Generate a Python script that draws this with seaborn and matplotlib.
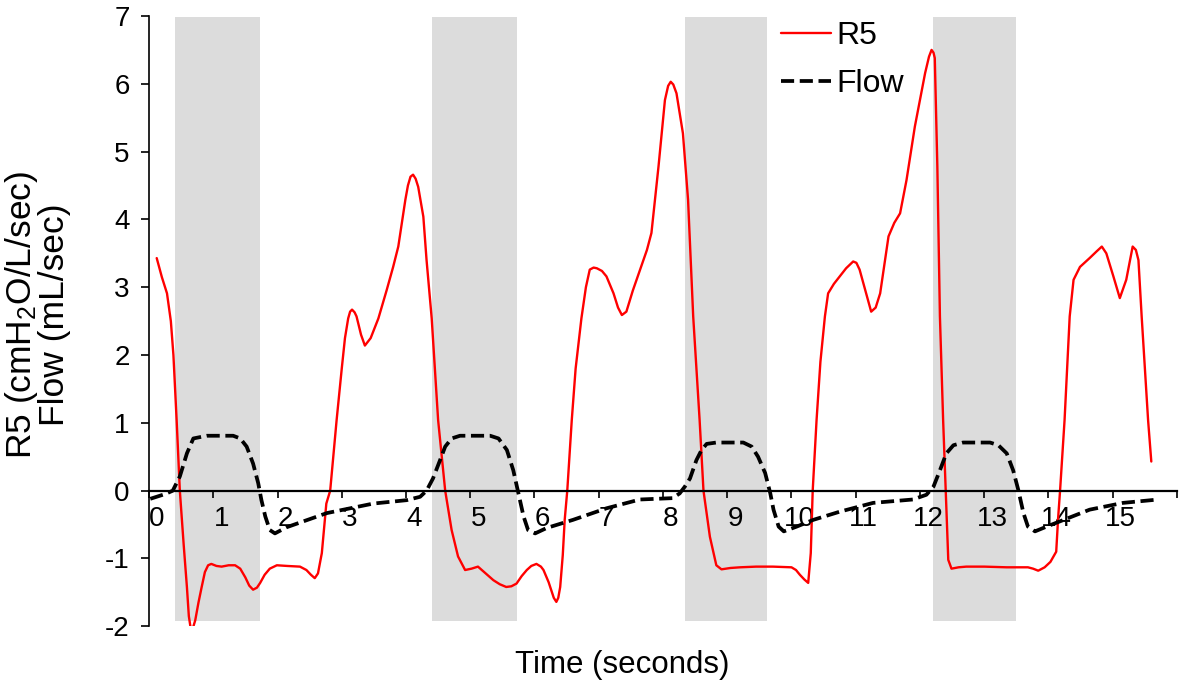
import matplotlib
matplotlib.use("Agg")
import matplotlib.pyplot as plt
import matplotlib.transforms as mtransforms
import seaborn as sns
import pandas as pd

# ---------------- data ----------------
r5_time = [0.12, 0.20, 0.28, 0.34, 0.38, 0.43, 0.48, 0.54, 0.59, 0.62, 0.66, 0.72, 0.77, 0.82, 0.87,
           0.92, 0.97, 1.05, 1.13, 1.24, 1.34, 1.42, 1.50, 1.56, 1.62, 1.68, 1.73, 1.80, 1.88, 1.99,
           2.15, 2.35, 2.45, 2.52, 2.58, 2.63, 2.69, 2.76, 2.82, 2.92, 3.00, 3.05, 3.10, 3.13, 3.16, 3.20,
           3.23, 3.30, 3.36, 3.45, 3.57, 3.70, 3.80, 3.88, 3.99, 4.03, 4.07, 4.11, 4.15, 4.19, 4.27,
           4.32, 4.40, 4.50,
           4.61, 4.71, 4.81, 4.92, 5.02, 5.12, 5.24, 5.36, 5.46, 5.56, 5.64, 5.72, 5.80, 5.88, 5.95,
           6.03, 6.10, 6.14, 6.22, 6.30, 6.34, 6.37, 6.40, 6.44, 6.47, 6.51, 6.58, 6.64, 6.73, 6.80,
           6.86, 6.92, 6.97, 7.05, 7.12, 7.23, 7.30, 7.36, 7.43, 7.53, 7.64, 7.75, 7.82, 7.93, 8.03, 8.08,
           8.12, 8.16, 8.21, 8.31, 8.39, 8.47, 8.57, 8.63, 8.73, 8.83, 8.91, 9.05, 9.20, 9.45, 9.71,
           10.00, 10.07, 10.13, 10.20, 10.26, 10.30, 10.33, 10.39, 10.45, 10.52, 10.57, 10.66, 10.75,
           10.85, 10.96, 11.01, 11.06, 11.15, 11.24, 11.31, 11.38, 11.51, 11.60, 11.69, 11.79, 11.92,
           12.08, 12.14, 12.18, 12.21, 12.23, 12.27, 12.31, 12.36, 12.40, 12.44, 12.49, 12.60, 12.72,
           13.00, 13.35, 13.68, 13.76, 13.84, 13.94, 14.03, 14.12, 14.15, 14.18, 14.25, 14.33, 14.39,
           14.49, 14.64, 14.75, 14.83, 14.90, 15.01, 15.11, 15.21, 15.31, 15.36, 15.40, 15.45, 15.55,
           15.60]
r5_value = [3.43, 3.15, 2.91, 2.50, 2.00, 1.04, 0.00, -0.80, -1.42, -1.85, -2.10, -1.91, -1.65, -1.42, -1.20,
            -1.10, -1.08, -1.11, -1.12, -1.10, -1.10, -1.15, -1.28, -1.40, -1.46, -1.43, -1.36, -1.24, -1.15, -1.10,
            -1.11, -1.12, -1.17, -1.24, -1.29, -1.22, -0.92, -0.19, 0.00, 1.04, 1.80, 2.25, 2.54, 2.64, 2.67, 2.63,
            2.57, 2.30, 2.14, 2.25, 2.54, 2.96, 3.30, 3.60, 4.29, 4.50, 4.63, 4.66, 4.60, 4.48, 4.04,
            3.40, 2.54, 1.04,
            0.00, -0.58, -0.97, -1.17, -1.15, -1.12, -1.22, -1.32, -1.38, -1.42, -1.41, -1.37, -1.26, -1.17, -1.11,
            -1.08, -1.12, -1.17, -1.35, -1.58, -1.64, -1.58, -1.42, -0.95, -0.43, 0.00, 1.04, 1.80, 2.54, 3.00,
            3.26, 3.29, 3.28, 3.24, 3.16, 2.91, 2.70, 2.59, 2.64, 2.95, 3.25, 3.55, 3.80, 4.78, 5.76, 5.97,
            6.03, 5.99, 5.86, 5.27, 4.29, 2.57, 1.04, 0.00, -0.68, -1.10, -1.16, -1.14, -1.13, -1.12, -1.12,
            -1.13, -1.17, -1.24, -1.31, -1.36, -0.92, 0.00, 1.04, 1.90, 2.57, 2.91, 3.05, 3.16,
            3.28, 3.38, 3.36, 3.26, 2.95, 2.64, 2.70, 2.91, 3.75, 3.95, 4.09, 4.58, 5.37,
            6.16, 6.40, 6.50, 6.46, 6.38, 4.78, 2.57, 1.04, 0.00, -1.02, -1.15, -1.13, -1.12,
            -1.12, -1.13, -1.13, -1.15, -1.18, -1.13, -1.05, -0.90, -0.40, 0.00, 1.04, 2.57, 3.11,
            3.30, 3.43, 3.53, 3.60, 3.50, 3.16, 2.84, 3.11, 3.60, 3.55, 3.40, 2.57, 1.04,
            0.43]

flow_time = [0.02, 0.25, 0.37, 0.48, 0.59, 0.69, 0.90, 1.31, 1.42, 1.52, 1.62, 1.70, 1.75, 1.81, 1.88,
             1.96, 2.14, 2.77, 3.49, 4.01, 4.22, 4.32, 4.42, 4.53, 4.61, 4.71, 4.84, 5.31, 5.44, 5.57,
             5.67, 5.75, 5.83, 5.90, 6.01, 6.19, 6.60, 7.12, 7.64, 8.15, 8.26, 8.34, 8.42, 8.52, 8.60,
             8.68, 8.83, 9.25, 9.38, 9.48, 9.59, 9.67, 9.72, 9.80, 9.88, 10.08, 10.34, 10.75, 11.27,
             11.89, 12.10, 12.21, 12.31, 12.41, 12.52, 12.67, 13.09, 13.22, 13.35, 13.45, 13.53, 13.61,
             13.68, 13.79, 13.97, 14.64, 15.16, 15.71]
flow_value = [-0.12, -0.05, 0.00, 0.21, 0.55, 0.77, 0.81, 0.81, 0.77, 0.65, 0.40, 0.11, -0.14, -0.38, -0.58,
              -0.63, -0.54, -0.33, -0.19, -0.14, -0.09, 0.00, 0.18, 0.45, 0.65, 0.77, 0.81, 0.81, 0.77, 0.60,
              0.30, -0.04, -0.38, -0.58, -0.63, -0.55, -0.43, -0.26, -0.13, -0.11, -0.04, 0.06, 0.18, 0.45, 0.60,
              0.69, 0.71, 0.71, 0.65, 0.50, 0.26, -0.04, -0.28, -0.53, -0.60, -0.53, -0.43, -0.31, -0.18,
              -0.13, -0.06, 0.06, 0.30, 0.55, 0.67, 0.71, 0.71, 0.67, 0.55, 0.30, 0.01, -0.33,
              -0.53, -0.60, -0.53, -0.28, -0.18, -0.13]

shade_start = [0.40, 4.41, 8.34, 12.21]
shade_end = [1.72, 5.72, 9.62, 13.49]

x_ticks = list(range(0, 17))
x_tick_labels = [str(i) for i in range(0, 16)] + [""]
y_ticks = list(range(-2, 8))

# ---------------- style ----------------
sns.set_style("white")
plt.rcParams["font.family"] = ["Liberation Sans", "DejaVu Sans"]
plt.rcParams["mathtext.fontset"] = "custom"
plt.rcParams["mathtext.rm"] = "Liberation Sans"
plt.rcParams["mathtext.it"] = "Liberation Sans"
plt.rcParams["mathtext.bf"] = "Liberation Sans:bold"
plt.rcParams["axes.unicode_minus"] = False
for key in ["text.color", "axes.labelcolor", "xtick.color", "ytick.color"]:
    plt.rcParams[key] = "black"

W, H, DPI = 1181, 686, 100
fig = plt.figure(figsize=(W / DPI, H / DPI), dpi=DPI)
left_px, right_px, top_px, bot_px = 149, 1177, 16, 626.3
ax = fig.add_axes([left_px / W, 1 - bot_px / H, (right_px - left_px) / W, (bot_px - top_px) / H])

for s, e in zip(shade_start, shade_end):
    ax.fill_between([s, e], -1.92, 6.98, color="#dcdcdc", linewidth=0, zorder=0)

r5_df = pd.DataFrame({"t": r5_time, "v": r5_value})
flow_df = pd.DataFrame({"t": flow_time, "v": flow_value})

sns.lineplot(data=r5_df, x="t", y="v", ax=ax, color="#ff0000", linewidth=1.7,
             estimator=None, sort=False, label="R5", zorder=3)
sns.lineplot(data=flow_df, x="t", y="v", ax=ax, color="black", linewidth=2.7,
             estimator=None, sort=False, label="Flow", zorder=4)
ax.lines[0].set_solid_joinstyle("round")
ax.lines[1].set_dashes((3.5, 1.5))

ax.set_xlim(0, 16)
ax.set_ylim(-2, 7)
ax.set_xticks(x_ticks)
ax.set_xticklabels(x_tick_labels)
ax.set_yticks(y_ticks)

for sp in ["top", "right"]:
    ax.spines[sp].set_visible(False)
ax.spines["bottom"].set_position(("data", 0))
ax.spines["bottom"].set_linewidth(1.6)
ax.spines["bottom"].set_color("black")
ax.spines["bottom"].set_zorder(5)
ax.spines["left"].set_linewidth(1.2)
ax.spines["left"].set_color("black")

ax.tick_params(axis="x", direction="out", length=5, width=1.2, color="black",
               labelcolor="black", labelsize=20, pad=6, bottom=True)
ax.tick_params(axis="y", direction="out", length=6, width=1.2, color="black",
               labelcolor="black", labelsize=20, pad=8, left=True)

offset = mtransforms.ScaledTranslation(8 / DPI, 0, fig.dpi_scale_trans)
for lab in ax.get_xticklabels():
    lab.set_transform(lab.get_transform() + offset)

ax.set_xlabel("Time (seconds)", fontsize=22.5, color="black")
ax.xaxis.set_label_coords(0.46, -0.039)
ax.set_ylabel("R5 (cmH$_2$O/L/sec)\nFlow (mL/sec)", fontsize=25.5, linespacing=0.92, color="black")
ax.yaxis.set_label_coords(-0.076, 0.51)

leg = ax.legend(loc="upper left", bbox_to_anchor=(781 / W, 1 - 21 / H),
                bbox_transform=fig.transFigure, frameon=False, fontsize=23,
                handlelength=1.56, handletextpad=0.16, labelspacing=0.57,
                borderpad=0, borderaxespad=0)
for t in leg.get_texts():
    t.set_color("black")

fig.savefig("out.png", dpi=DPI)
